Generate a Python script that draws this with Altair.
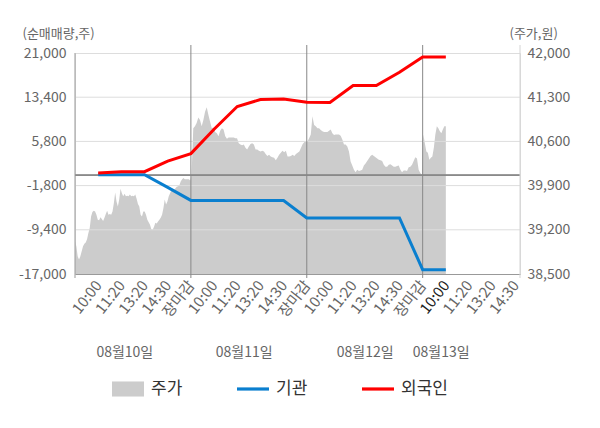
import json
import altair as alt
import pandas as pd

FONT = "Noto Sans CJK KR"
W, H = 445, 221

# ---- x axis categories ----
slot_labels = ["10:00", "11:20", "13:20", "14:30", "장마감"]
tick_slots = list(range(1, 20))
day_names = ["08월10일", "08월11일", "08월12일", "08월13일"]
day_label_pos = [2.15, 7.3, 12.52, 15.8]
day_bounds = [5, 10, 15]
x_end = 19.2

# ---- net buying (left axis) ----
net_slots = list(range(1, 17))
inst = [80, 80, 80, -2100, -4350, -4350, -4350, -4350, -4350,
        -7350, -7350, -7350, -7350, -7350, -16250, -16250]
foreign = [380, 600, 600, 2400, 3700, 7900, 11800, 13000, 13100,
           12550, 12500, 15400, 15400, 17700, 20300, 20300]

# ---- price (right axis) ----
price_day1 = [39020, 38940, 38780, 38730, 38780, 38860, 38940, 38980, 39000, 39050,
              39150, 39230, 39410, 39480, 39500, 39490, 39440, 39360, 39350, 39400,
              39370, 39340, 39390, 39450, 39500, 39440, 39450, 39440, 39490, 39620,
              39790, 39650, 39570, 39680, 39850, 39780, 39730, 39770, 39730, 39740,
              39730, 39760, 39730, 39740, 39730, 39760, 39690, 39610, 39570, 39440,
              39410, 39490, 39490, 39440, 39360, 39320, 39280, 39210, 39200, 39250,
              39310, 39300, 39330, 39360, 39390, 39440, 39540, 39680, 39600, 39650,
              39730, 39780, 39830, 39850, 39830, 39860, 39880, 39890, 39910, 39970,
              40000, 40020, 40000, 40000, 40000, 40000, 39980]
price_day2 = [40070, 40810, 40840, 40890, 40980, 40940, 40840, 40940, 41070, 41140,
              41020, 40910, 40810, 40820, 40750, 40730, 40680, 40770, 40810, 40790,
              40680, 40640, 40660, 40660, 40660, 40660, 40650, 40650, 40570, 40550,
              40540, 40550, 40500, 40470, 40520, 40560, 40570, 40550, 40470, 40470,
              40450, 40440, 40450, 40440, 40400, 40370, 40390, 40360, 40350, 40340,
              40300, 40340, 40390, 40420, 40450, 40430, 40450, 40360, 40360, 40370,
              40390, 40370, 40400, 40420, 40440, 40500, 40560, 40590, 40590]
price_day3 = [40600, 40650, 40710, 41000, 40860, 40840, 40810, 40810, 40780, 40760,
              40750, 40750, 40750, 40770, 40790, 40730, 40700, 40710, 40710, 40710,
              40690, 40630, 40550, 40550, 40520, 40440, 40280, 40220, 40150, 40110,
              40150, 40130, 40140, 40150, 40220, 40250, 40290, 40330, 40370, 40390,
              40370, 40350, 40330, 40310, 40300, 40290, 40230, 40200, 40200, 40230,
              40240, 40220, 40200, 40200, 40210, 40220, 40150, 40110, 40140, 40140,
              40130, 40190, 40200, 40230, 40290, 40350, 40330, 40150, 40100, 40070]
price_day4 = [40710, 40570, 40440, 40420, 40310, 40340, 40360, 40500, 40710, 40840,
              40810, 40760, 40730, 40790, 40840, 40840]

left_ticks = [-17000, -9400, -1800, 5800, 13400, 21000]
right_ticks = [38500, 39200, 39900, 40600, 41300, 42000]

series_names = ["주가", "기관", "외국인"]
series_colors = ["#cccccc", "#0a7fcf", "#ff0000"]
BOX = "M-1,-0.47H1V0.47H-1Z"
BAR = "M-1,-0.1H1V0.1H-1Z"


def spread(vals, a, b):
    n = len(vals)
    return [a + (b - a) * i / (n - 1) for i in range(n)]


days = [price_day1, price_day2, price_day3, price_day4]
spans = [(0.0, 4.97), (5.03, 9.97), (10.03, 14.97), (15.03, 16.0)]
xs, ps = [], []
for vals, (a, b) in zip(days, spans):
    xs += spread(vals, a, b)
    ps += vals
price_df = pd.DataFrame({"x": xs, "price": ps, "base": right_ticks[0]})
inst_df = pd.DataFrame({"x": net_slots, "v": inst})
for_df = pd.DataFrame({"x": net_slots, "v": foreign})
grid_df = pd.DataFrame({"v": left_ticks[1:-1]})
bounds_df = pd.DataFrame({"b": day_bounds})
dates_df = pd.DataFrame({"x": day_label_pos, "t": day_names})
legend_df = pd.DataFrame({"series": series_names, "x": [0, 0, 0]})

xscale = alt.Scale(domain=[0, x_end], nice=False, zero=False)
lscale = alt.Scale(domain=[left_ticks[0], left_ticks[-1]], nice=False, zero=False)
rscale = alt.Scale(domain=[right_ticks[0], right_ticks[-1]], nice=False, zero=False)
cscale = alt.Scale(domain=series_names, range=series_colors)
sscale = alt.Scale(domain=series_names, range=[BOX, BAR, BAR])

legend_def = alt.Legend(
    title=None, orient="none", legendX=37, legendY=320, direction="horizontal",
    symbolSize=1024, columnPadding=54, padding=0, symbolOpacity=1,
    symbolStrokeWidth=0,
    labelFont=FONT, labelFontSize=17, labelColor="#333", labelOffset=7,
)

label_expr = json.dumps(slot_labels, ensure_ascii=False) + "[(datum.value - 1) % 5]"
x_axis = alt.Axis(
    values=tick_slots, labelExpr=label_expr, labelAngle=-52, labelAlign="right",
    labelBaseline="middle", labelPadding=8, ticks=False, grid=False,
    domainColor="#999", labelFont=FONT, labelFontSize=15, labelOverlap=False,
    labelFlush=False, title=None,
    labelColor={"condition": [{"test": "datum.label == '장마감'", "value": "#ff0000"},
                              {"test": "datum.value == 16", "value": "#222222"}],
                "value": "#666666"},
)


def X(field):
    return alt.X(field, scale=xscale, axis=x_axis)


area = alt.Chart(price_df).mark_area(interpolate="linear", color=series_colors[0]).encode(
    x=X("x:Q"),
    y=alt.Y("price:Q", scale=rscale, axis=alt.Axis(
        orient="right", values=right_ticks, labelExpr="format(datum.value, ',')",
        grid=False, ticks=False,
        domain=False, labelPadding=7, labelFont=FONT, labelFontSize=14,
        labelColor="#666", labelFlush=False, title="(주가,원)", titleAngle=0,
        titleAlign="left", titleBaseline="middle", titleX=-11, titleY=-20,
        titleFont=FONT, titleFontSize=13, titleFontWeight="normal", titleColor="#666")),
    y2="base:Q",
)

grid = alt.Chart(grid_df).mark_rule(color="#dddddd", strokeWidth=1).encode(
    y=alt.Y("v:Q", scale=lscale, axis=alt.Axis(
        orient="left", values=left_ticks,
        labelExpr="replace(format(datum.value, ','), '\u2212', '-')",
        grid=False, ticks=False, domain=False, labelPadding=9, labelFont=FONT,
        labelFontSize=14, labelColor="#666", labelFlush=False,
        title="(순매매량,주)", titleAngle=0, titleAlign="left", titleBaseline="middle",
        titleX=-53, titleY=-20, titleFont=FONT, titleFontSize=13,
        titleFontWeight="normal", titleColor="#666")),
)

zero = alt.Chart(grid_df).mark_rule(color="#888888", strokeWidth=1).encode(
    y=alt.datum(0, scale=lscale),
)

day_rules = alt.Chart(bounds_df).mark_rule(color="#888888", strokeWidth=1).encode(
    x=X("b:Q"),
    y=alt.value(-8), y2=alt.value(H + 4),
)
left_edge = alt.Chart(pd.DataFrame({"b": [0]})).mark_rule(color="#999999").encode(
    x=X("b:Q"),
    y=alt.value(0), y2=alt.value(H + 4),
)
right_edge = alt.Chart(pd.DataFrame({"b": [x_end]})).mark_rule(color="#d4d4d4").encode(
    x=X("b:Q"),
    y=alt.value(-8), y2=alt.value(H + 4),
)

blue = alt.Chart(inst_df).mark_line(strokeWidth=3, color=series_colors[1]).encode(
    x=X("x:Q"),
    y=alt.Y("v:Q", scale=lscale),
)
red = alt.Chart(for_df).mark_line(strokeWidth=3, color=series_colors[2]).encode(
    x=X("x:Q"),
    y=alt.Y("v:Q", scale=lscale),
)

dates = alt.Chart(dates_df).mark_text(
    font=FONT, fontSize=14, color="#666666", align="center", baseline="middle"
).encode(
    x=X("x:Q"),
    y=alt.value(H + 79),
    text="t:N",
)

legend_layer = alt.Chart(legend_df).transform_filter("false").mark_point(
    filled=True, size=1024
).encode(
    x=X("x:Q"),
    y=alt.value(0),
    color=alt.Color("series:N", scale=cscale, legend=legend_def),
    shape=alt.Shape("series:N", scale=sscale, legend=legend_def),
)

left = alt.layer(grid, zero, day_rules, left_edge, right_edge, blue, red, dates, legend_layer)

chart = alt.layer(area, left).resolve_scale(y="independent").properties(
    width=W, height=H,
    padding={"left": 67, "top": 45, "right": 72, "bottom": 140},
    autosize=alt.AutoSizeParams(type="none"),
).configure_view(fill="#f4f4f4", strokeWidth=0).configure(background="white")

chart.save("out.html", embed_options={"renderer": "svg", "actions": False})
